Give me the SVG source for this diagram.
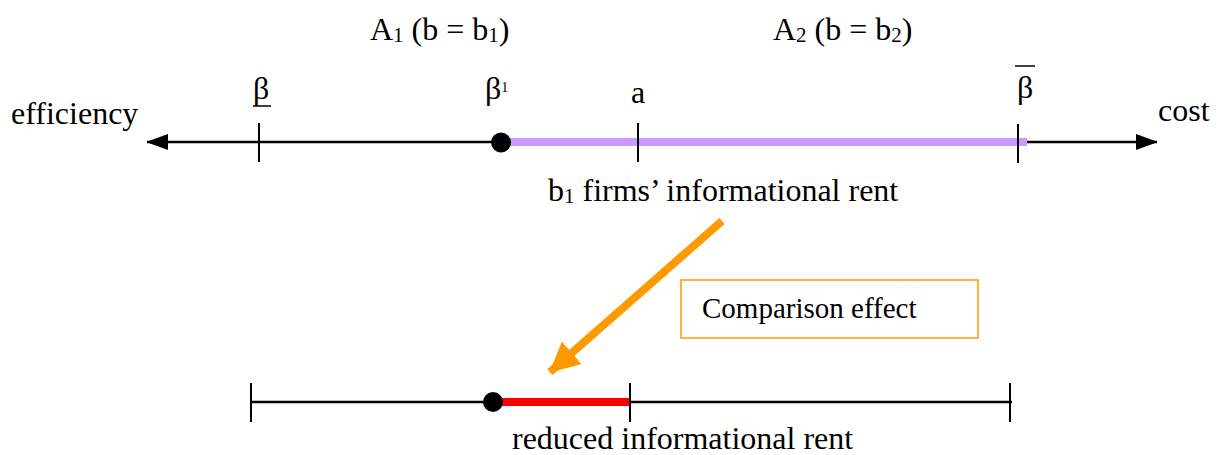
<svg xmlns="http://www.w3.org/2000/svg" width="1221" height="455" viewBox="0 0 1221 455">
<style>
text{font-family:"Liberation Serif","Times New Roman",serif;font-size:32px;fill:#000}
text.cmp{font-size:29px}
.ax{stroke:#000;stroke-width:2.5;fill:none}
.tk{stroke:#000;stroke-width:2;fill:none}
.sub{font-size:21px}
</style>
<defs>
<marker id="ah" viewBox="0 0 22 16" refX="21" refY="8" markerWidth="22" markerHeight="16" markerUnits="userSpaceOnUse" orient="auto">
<path d="M0,0 L22,8 L0,16 Z" fill="#000"/>
</marker>
<marker id="oah" viewBox="0 0 30 30" refX="29" refY="15" markerWidth="30" markerHeight="30" markerUnits="userSpaceOnUse" orient="auto">
<path d="M0,0 L30,15 L0,30 Z" fill="#FF9900"/>
</marker>
</defs>
<g id="connectors">
<line class="ax" x1="500" y1="142" x2="147" y2="142" marker-end="url(#ah)"/>
<line class="ax" x1="1020" y1="142" x2="1157" y2="142" marker-end="url(#ah)"/>
<line class="ax" x1="251" y1="402" x2="1012" y2="402"/>
<line x1="722" y1="221" x2="550" y2="372" stroke="#FF9900" stroke-width="8" marker-end="url(#oah)"/>
</g>
<g id="top-axis">
<line x1="501" y1="142" x2="1027" y2="142" stroke="#CC99FF" stroke-width="8"/>
<line class="tk" x1="259" y1="123" x2="259" y2="162"/>
<line class="tk" x1="638" y1="123" x2="638" y2="162"/>
<line class="tk" x1="1018" y1="124" x2="1018" y2="163"/>
<circle cx="501" cy="142.5" r="10" fill="#000"/>
</g>
<g id="bottom-axis">
<line x1="493" y1="402" x2="630" y2="402" stroke="#FF0000" stroke-width="8"/>
<line class="tk" x1="251" y1="383" x2="251" y2="422"/>
<line class="tk" x1="630" y1="383" x2="630" y2="422"/>
<line class="tk" x1="1010" y1="383" x2="1010" y2="422"/>
<circle cx="493" cy="402" r="10" fill="#000"/>
</g>
<g id="label-a1"><text x="370" y="40">A<tspan class="sub" dy="2">1</tspan><tspan dy="-2"> (b = b</tspan><tspan class="sub" dy="2">1</tspan><tspan dy="-2">)</tspan></text></g>
<g id="label-a2"><text x="773" y="40">A<tspan class="sub" dy="2">2</tspan><tspan dy="-2"> (b = b</tspan><tspan class="sub" dy="2">2</tspan><tspan dy="-2">)</tspan></text></g>
<g id="label-efficiency"><text x="11" y="124">efficiency</text></g>
<g id="label-cost"><text x="1158" y="121">cost</text></g>
<g id="label-beta-low"><text x="253" y="99">β</text><line x1="253" y1="106" x2="271" y2="106" stroke="#000" stroke-width="1.5"/></g>
<g id="label-beta-prime"><text x="485" y="99">β<tspan font-size="14" dy="-7">1</tspan></text></g>
<g id="label-a"><text x="631" y="103">a</text></g>
<g id="label-beta-high"><text x="1017" y="98">β</text><line x1="1015" y1="66" x2="1035" y2="66" stroke="#000" stroke-width="1.5"/></g>
<g id="label-rent"><text x="548" y="201">b<tspan class="sub" dy="2">1</tspan><tspan dy="-2"> firms’ informational rent</tspan></text></g>
<g id="comparison-effect">
<rect x="681" y="280" width="297" height="58" fill="#fff" stroke="#FF9900" stroke-width="1.5"/>
<text class="cmp" x="702" y="318">Comparison effect</text>
</g>
<g id="label-reduced"><text x="512" y="449">reduced informational rent</text></g>
</svg>
